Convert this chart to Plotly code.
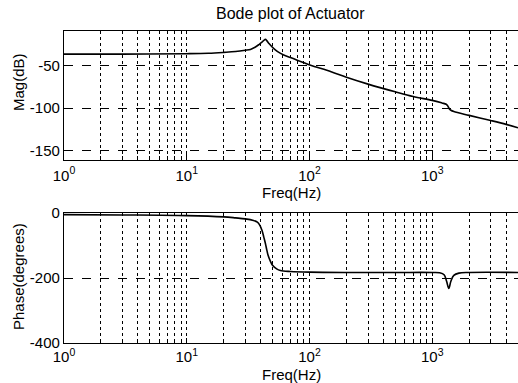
import math
import plotly.graph_objects as go

# ---- data ----
freq_mag = [1, 3, 10, 15, 20, 25, 30, 33, 36, 39, 41, 42.5, 43.7, 45, 47, 51, 55,
            61.7, 70, 79.4, 90, 102, 150, 200, 300, 500, 700, 1000, 1200, 1300,
            1340, 1380, 1420, 1500, 2000, 3000, 4000, 5000]
mag_db = [-37, -37, -36.5, -36, -35, -34, -32.5, -31.5, -29, -25.5, -23, -21, -19.7,
          -21.5, -25, -30.3, -34, -38, -41, -44, -47, -50, -57.5, -64, -72, -81,
          -86.5, -91, -94, -95.5, -97.5, -101, -102.5, -104, -108.5, -114.5, -119, -123]

freq_ph = [1, 3, 10, 20, 25, 30, 35, 37.6, 39, 41, 42.5, 43.7, 45, 46, 48, 50, 54,
           58, 70, 100, 200, 500, 1000, 1150, 1250, 1310, 1365, 1420, 1500, 1650,
           2000, 5000]
phase_deg = [-5, -6, -8, -12, -15, -18, -23, -28, -35, -53, -75, -93, -115, -130,
             -148, -161, -172, -177, -180, -182, -183, -183, -183, -184, -190, -210,
             -232, -210, -192, -185, -183, -183]

x_tick_vals = [1, 10, 100, 1000]
x_tick_text = ["10<sup>0</sup>", "10<sup>1</sup>", "10<sup>2</sup>", "10<sup>3</sup>"]
mag_ticks = [-50, -100, -150]
phase_ticks = [0, -200, -400]
minor_vals = [m * d for d in (1, 10, 100, 1000) for m in range(2, 10) if m * d < 5000]

TITLE = "Bode plot of Actuator"
XLABEL = "Freq(Hz)"
MAG_LABEL = "Mag(dB)"
PHASE_LABEL = "Phase(degrees)"

FONT = "Arial, Liberation Sans, sans-serif"

fig = go.Figure()
fig.add_trace(go.Scatter(x=freq_mag, y=mag_db, mode="lines", xaxis="x", yaxis="y",
                         line=dict(color="black", width=1.6), line_shape="spline",
                         showlegend=False))
fig.add_trace(go.Scatter(x=freq_ph, y=phase_deg, mode="lines", xaxis="x2", yaxis="y2",
                         line=dict(color="black", width=1.6), line_shape="spline",
                         showlegend=False))

W, H = 518, 383
top, bot, left = 31, 343, 64
ph = bot - top
pw = W - left

def py(y):
    return (bot - y) / ph

def pxx(x):
    return (x - left) / pw

xcommon = dict(type="log", range=[0, math.log10(5000)], showline=True, mirror=True,
               linecolor="black", linewidth=1.2, ticks="inside", ticklen=5,
               tickcolor="black", tickvals=x_tick_vals, ticktext=x_tick_text,
               showgrid=True, gridcolor="black", gridwidth=1, griddash="dot",
               tickfont=dict(family=FONT, size=15, color="black"),
               minor=dict(tickvals=minor_vals, ticks="inside", ticklen=3,
                          tickcolor="black", showgrid=True, gridcolor="black",
                          gridwidth=1, griddash="dot"),
               zeroline=False)

fig.update_layout(
    width=W, height=H,
    margin=dict(l=left, r=0, t=top, b=H - bot),
    paper_bgcolor="white", plot_bgcolor="white",
    font=dict(family=FONT, size=15, color="black"),
    xaxis=dict(**xcommon, anchor="y", domain=[0, 1], ticklabelstandoff=2),
    yaxis=dict(range=[-160, -10], domain=[py(159.5), 1], tickvals=mag_ticks,
               ticktext=["-50", "-100", "-150"], showline=True, mirror=True,
               linecolor="black", linewidth=1.2, ticks="inside", ticklen=5,
               tickcolor="black", showgrid=True, gridcolor="black", gridwidth=1,
               griddash="dash", zeroline=False,
               tickfont=dict(family=FONT, size=15, color="black")),
    xaxis2=dict(**xcommon, anchor="y2", domain=[0, 1], ticklabelstandoff=0),
    yaxis2=dict(range=[-400, 0], domain=[0, py(213)], tickvals=phase_ticks,
                ticktext=["0", "-200", "-400"], showline=True, mirror=True,
                linecolor="black", linewidth=1.2, ticks="inside", ticklen=5,
                tickcolor="black", showgrid=True, gridcolor="black", gridwidth=1,
                griddash="dash", zeroline=False,
                tickfont=dict(family=FONT, size=15, color="black")),
)

ann = dict(showarrow=False, xref="paper", yref="paper",
           font=dict(family=FONT, size=15, color="black"))
fig.add_annotation(text=TITLE, x=pxx(290), y=py(14), xanchor="center", yanchor="middle",
                   showarrow=False, xref="paper", yref="paper",
                   font=dict(family=FONT, size=16, color="black"))
fig.add_annotation(text=XLABEL, x=pxx(291), y=py(193), xanchor="center", yanchor="middle", **ann)
fig.add_annotation(text=XLABEL, x=pxx(291), y=py(374), xanchor="center", yanchor="middle", **ann)
fig.add_annotation(text=MAG_LABEL, x=pxx(18), y=py(82), xanchor="center", yanchor="middle",
                   textangle=-90, **ann)
fig.add_annotation(text=PHASE_LABEL, x=pxx(18), y=py(277), xanchor="center", yanchor="middle",
                   textangle=-90, **ann)

fig.write_html("out.html")
